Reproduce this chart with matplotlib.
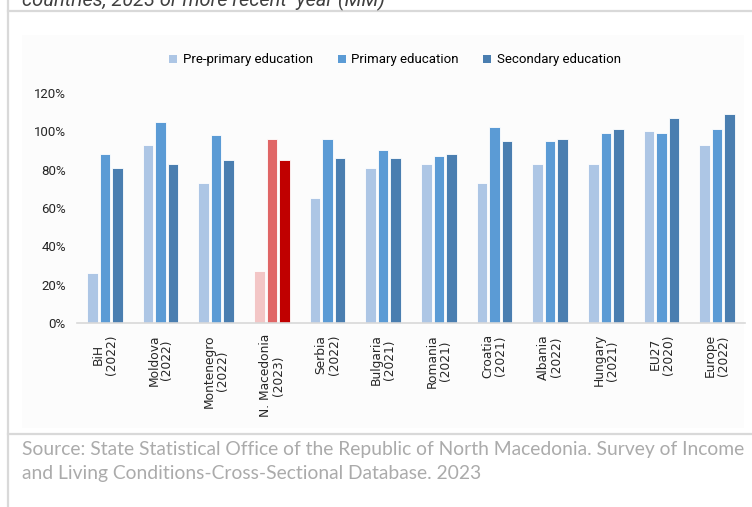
import numpy as np
import matplotlib
matplotlib.use("Agg")
import matplotlib.pyplot as plt
from matplotlib.patches import Patch, Rectangle
from matplotlib.lines import Line2D

# gross enrolment rates by level of education (%)
countries = ["BiH\n(2022)", "Moldova\n(2022)", "Montenegro\n(2022)", "N. Macedonia\n(2023)",
             "Serbia\n(2022)", "Bulgaria\n(2021)", "Romania\n(2021)", "Croatia\n(2021)",
             "Albania\n(2022)", "Hungary\n(2021)", "EU27\n(2020)", "Europe\n(2022)"]
pre_primary = [26, 93, 73, 27, 65, 81, 83, 73, 83, 83, 100, 93]
primary = [88, 105, 98, 96, 96, 90, 87, 102, 95, 99, 99, 101]
secondary = [81, 83, 85, 85, 86, 86, 88, 95, 96, 101, 107, 109]
series_names = ["Pre-primary education", "Primary education", "Secondary education"]

blues = ["#adc6e5", "#5b9bd5", "#4a7eb0"]
reds = ["#f3c6c6", "#e06666", "#c00000"]
highlight = 3  # North Macedonia

W, H = 752, 507
fig = plt.figure(figsize=(W / 100, H / 100), dpi=100)
fig.patch.set_facecolor("white")

# page frame lines
gray = "#d9d9d9"
fig.add_artist(Line2D([8 / W, 8 / W], [0, 1], color=gray, lw=1.6))
fig.add_artist(Line2D([8 / W, 1], [1 - 11 / H, 1 - 11 / H], color=gray, lw=1.6))
fig.add_artist(Line2D([8 / W, 1], [1 - 434 / H, 1 - 434 / H], color=gray, lw=1.6))
fig.add_artist(Rectangle((22 / W, 1 - 428 / H), (744 - 22) / W, (428 - 35) / H,
                         facecolor="#fcfcfc", edgecolor="none", zorder=0))

# heading, running off the top of the page
fig.text(22 / W, 1 - 6 / H, "countries, 2023 or more recent  year (MM)",
         fontsize=14.4, style="italic", color="#404040", family="Roboto",
         va="baseline", ha="left")

ax = fig.add_axes([77 / W, 1 - 323 / H, (745 - 77) / W, (323 - 93) / H])
ax.set_facecolor("none")

x = np.arange(len(countries))
step = 0.225
width = 0.19
for i, vals in enumerate([pre_primary, primary, secondary]):
    colors = [reds[i] if j == highlight else blues[i] for j in range(len(countries))]
    ax.bar(x + (i - 1) * step, vals, width, color=colors, edgecolor="white", linewidth=0.6)

ax.set_xlim(-0.5, len(countries) - 0.5)
ax.set_ylim(0, 120)
ax.set_yticks(range(0, 121, 20))
ax.set_yticklabels([f"{v}%" for v in range(0, 121, 20)],
                   family="Roboto", fontsize=9.5, color="#262626")
ax.set_xticks(x)
ax.set_xticklabels(countries, rotation=90, fontsize=8.8, color="#262626",
                   linespacing=1.0, va="top", ha="center")
ax.tick_params(axis="both", length=0)
ax.tick_params(axis="y", pad=8)
ax.tick_params(axis="x", pad=8)
for s in ["top", "right", "left"]:
    ax.spines[s].set_visible(False)
ax.spines["bottom"].set_color(gray)
ax.spines["bottom"].set_linewidth(1.2)

handles = [Patch(facecolor=c, edgecolor="none") for c in blues]
fig.legend(handles, series_names, loc="center", bbox_to_anchor=(395 / W, 1 - 60 / H),
           ncol=3, frameon=False, handlelength=0.6, handleheight=0.6, handletextpad=0.4,
           columnspacing=1.9, prop={"family": "Roboto", "size": 9.5})

# source note
src = ("Source: State Statistical Office of the Republic of North Macedonia. Survey of Income\n"
       "and Living Conditions-Cross-Sectional Database. 2023")
fig.text(22 / W, 1 - 441 / H, src, fontsize=13.9, color="#ababab", family="Lato",
         va="top", ha="left", linespacing=1.5)

fig.savefig("out.png", dpi=100)
